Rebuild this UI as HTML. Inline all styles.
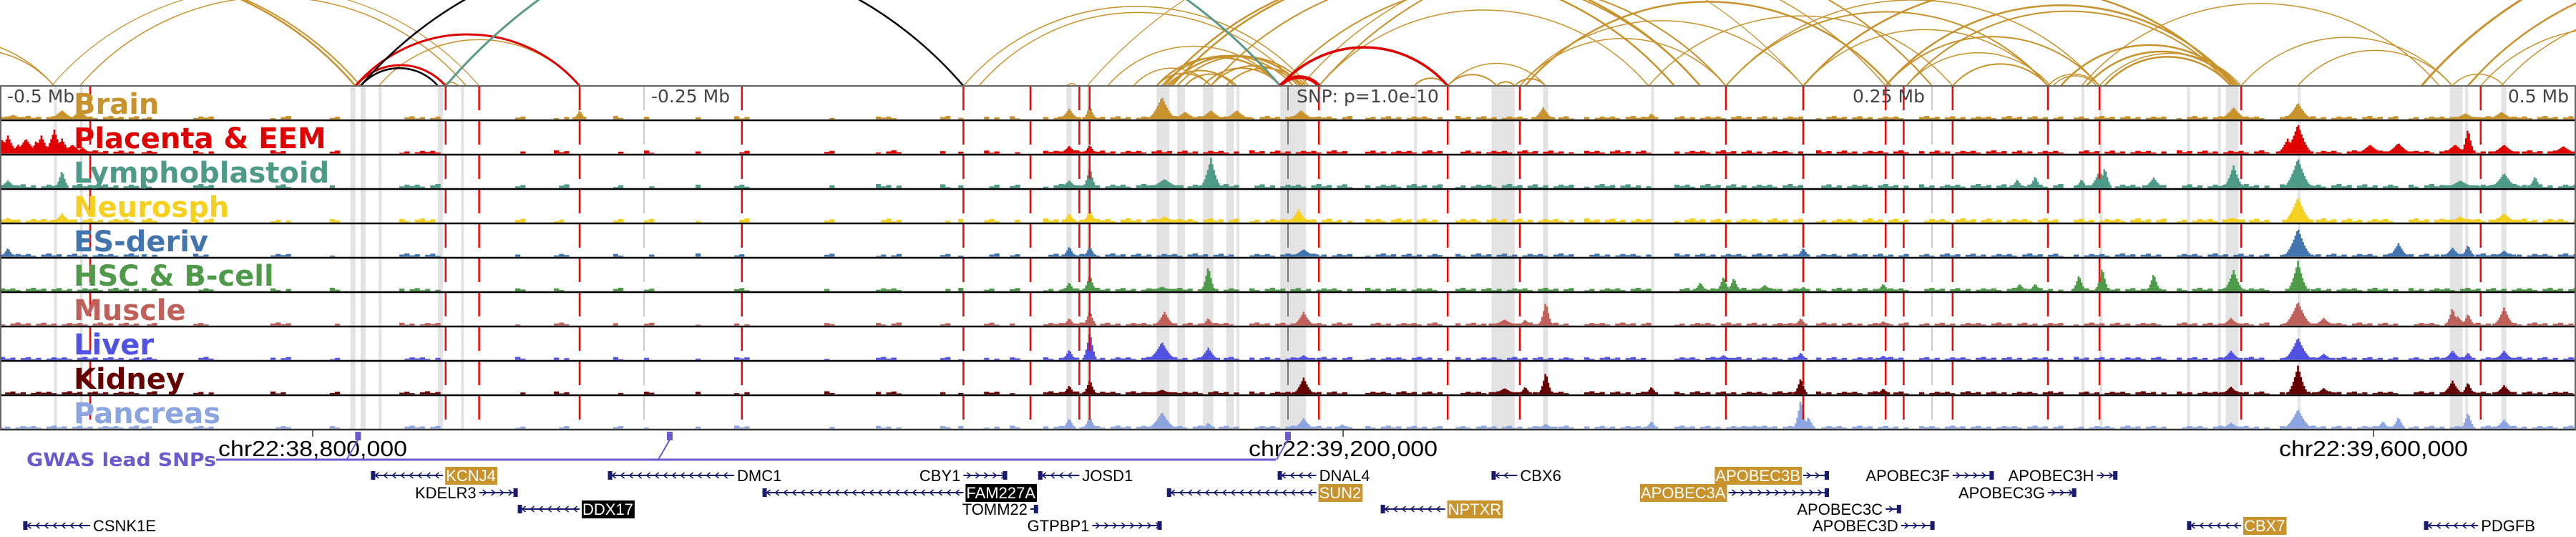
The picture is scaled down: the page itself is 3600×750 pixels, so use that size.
<!DOCTYPE html>
<html><head><meta charset="utf-8">
<style>
html,body{margin:0;padding:0;background:#fff;}
svg{display:block;}
</style></head>
<body>
<svg id="chart" xmlns="http://www.w3.org/2000/svg" width="3600" height="750" viewBox="0 0 3600 750">
  <defs><clipPath id="arcClip"><rect x="0" y="0" width="3600" height="121"/></clipPath></defs>
  <g id="arcs" clip-path="url(#arcClip)"></g>
  <g id="bands"></g>
  <g id="tracks"></g>
  <g id="vlines"></g>
  <g id="borders"></g>
  <g id="labels"></g>
  <g id="axis"></g>
  <g id="gwas"></g>
  <g id="genes"></g>
</svg>
<script>
// ---- data (positions in kb relative to lead SNP) ----
const trackNames = ["Brain","Placenta & EEM","Lymphoblastoid","Neurosph","ES-deriv","HSC & B-cell","Muscle","Liver","Kidney","Pancreas"];
const trackColors = ["#c8922c","#e00000","#4e9a88","#f5d01e","#4274ae","#4f9a4a","#c0605a","#5252e2","#650000","#8ca4e0"];
const backgroundLevels = [0.09,0.09,0.11,0.11,0.09,0.09,0.08,0.08,0.08,0.08];
const backgroundTexture = [0.6,1.0,0.4,0,0.8,1.2,0.5,0.9,0,0.7,1.1,0.3,0.8,0,0.5,1.0];
const backgroundSegments = [[-500,-447],[-445,-440],[-425,-418],[-395,-388],[-372,-368],[-345,-330],[-300,-296],[-285,-280],[-262,-258],[-250,-246],[-230,-228],[-215,-210],[-180,-176],[-160,-150],[-135,-132],[-128,-126],[-118,-112],[-108,-104],[-95,-20],[-15,25],[30,60],[65,110],[115,140],[150,200],[205,240],[245,300],[305,340],[345,380],[385,430],[435,500]];
// peaks: [kb, height fraction, half-width kb]
const brainPeaks = [[-495,0.15,3],[-476,0.3,3],[-469,0.35,2],[-275,0.3,1],[-85,0.35,2],[-77,0.45,1],[-49,0.75,3],[-40,0.25,3],[-30,0.3,3],[-20,0.3,3],[5,0.3,3],[99,0.4,2],[141,0.2,1],[367,0.4,3],[392,0.55,3],[457,0.2,3],[471,0.25,3]];
const placentaPeaks = [[-499,0.5,1],[-497,0.6,2],[-493,0.3,2],[-490,0.5,3],[-486,0.45,1],[-484,0.6,2],[-479,0.8,2],[-476,0.5,2],[-472,0.3,3],[-468,0.2,2],[-85,0.25,2],[-77,0.3,1],[392,1.0,3],[388,0.5,2],[420,0.3,3],[431,0.35,3],[453,0.3,3],[458,0.85,1],[472,0.3,3],[495,0.25,3]];
const lymphPeaks = [[-497,0.25,2],[-476,0.6,1],[-85,0.25,2],[-77,0.7,1],[-48,0.3,4],[-30,1.0,2],[283,0.3,1],[290,0.4,1],[308,0.3,1],[315,0.6,2],[317,0.7,1],[336,0.35,2],[367,0.75,2],[392,1.0,3],[455,0.25,4],[472,0.5,3],[484,0.4,1]];
const neuroPeaks = [[-497,0.15,2],[-476,0.3,2],[-85,0.3,1],[-77,0.45,1],[-48,0.2,3],[4,0.45,2],[367,0.15,2],[392,0.85,3],[455,0.2,3],[472,0.3,3]];
const esPeaks = [[-497,0.3,1],[-85,0.35,1],[-77,0.35,1],[6,0.25,3],[200,0.3,1],[392,0.95,3],[431,0.45,2],[452,0.3,2],[458,0.4,1],[472,0.2,2]];
const hscPeaks = [[-85,0.3,1],[-77,0.55,1],[-49,0.15,3],[-31,0.85,1],[160,0.3,1],[169,0.5,1],[173,0.45,1],[185,0.2,2],[200,0.15,1],[231,0.25,1],[284,0.25,1],[290,0.25,1],[307,0.55,1],[316,0.8,1],[336,0.6,1],[367,0.7,2],[392,1.0,2]];
const musclePeaks = [[-85,0.25,1],[-77,0.5,1],[-48,0.45,2],[-31,0.25,1],[6,0.45,2],[84,0.2,3],[92,0.2,1],[100,0.8,1],[199,0.25,1],[231,0.15,1],[366,0.25,2],[392,0.8,3],[402,0.25,2],[452,0.6,1],[454,0.3,2],[458,0.4,1],[472,0.6,2]];
const liverPeaks = [[-85,0.35,1],[-77,0.95,1],[-49,0.6,3],[-31,0.4,2],[6,0.15,2],[169,0.15,2],[199,0.25,1],[231,0.15,1],[366,0.3,2],[392,0.75,3],[402,0.2,2],[452,0.3,2],[458,0.25,1],[472,0.3,2]];
const kidneyPeaks = [[-85,0.3,1],[-77,0.5,1],[-49,0.15,3],[6,0.55,2],[84,0.2,3],[92,0.25,1],[100,0.75,1],[141,0.25,1],[199,0.55,1],[231,0.2,1],[366,0.25,2],[392,0.95,2],[402,0.2,2],[452,0.45,2],[458,0.4,1],[472,0.3,2]];
const pancreasPeaks = [[-85,0.35,1],[-77,0.4,1],[-49,0.55,3],[-31,0.2,1],[6,0.35,2],[21,0.15,1],[100,0.15,2],[141,0.25,1],[181,0.1,2],[199,1.0,1],[202,0.4,1],[366,0.2,2],[392,0.65,3],[425,0.25,1],[431,0.4,1],[458,0.55,1],[472,0.3,2]];
const trackPeaks = [brainPeaks,placentaPeaks,lymphPeaks,neuroPeaks,esPeaks,hscPeaks,musclePeaks,liverPeaks,kidneyPeaks,pancreasPeaks];
const markerLines = [-465,-327,-314,-275,-212,-126,-100,-81,-77,12,62,90,170,200,232,239,258,295,315,370,463];
const greyBands = [[-479,-478],[-469,-468],[-364,-362],[-360,-358],[-353,-352],[-330,-328],[-321,-320],[-86,-84],[-78,-77],[-51,-46],[-43,-40],[-33,-29],[-24,-21],[-20,-19],[-3,3],[3,7],[49,50],[79,88],[99,101],[141,142],[308,309],[315,316],[349,350],[361,362],[364,369],[392,393],[451,456],[457,458],[471,473]];
const snpPosition = 0;
// arcs: [startKb, endKb, colorKey, strokeWidth]
const arcs = [
 [-560,-479,"g",1.5],[-540,-479,"g",1.5],[-469,-319,"g",1.5],[-560,-362,"g",2.5],[-555,-360,"g",2],
 [-353,-275,"g",1.5],[-328,-322,"g",1.5],[-480,-314,"g",1.2],
 [-126,8,"g",1.5],[-120,4,"g",1.5],[-86,-82,"g",1.5],[-78,200,"g",1.2],
 [-51,-3,"g",2.5],[-49,2,"g",2],[-46,5,"g",2.5],[-43,7,"g",2],[-33,-3,"g",2],[-30,4,"g",2],[-24,6,"g",2],
 [-51,-30,"g",2],[-47,-21,"g",2],[-40,-20,"g",2],[-60,-30,"g",1.5],[-70,-3,"g",1.5],
 [-48,150,"g",2.5],[-45,160,"g",2.5],[-30,160,"g",2],[-3,170,"g",2],[12,250,"g",2],[5,232,"g",1.5],
 [49,62,"g",2],[62,81,"g",2],[81,88,"g",2],[88,100,"g",2],[62,100,"g",1.5],[12,140,"g",1.5],
 [90,170,"g",1.5],[90,200,"g",1.5],[92,234,"g",2.5],[140,258,"g",1.5],
 [170,295,"g",2],[200,295,"g",1.5],[232,315,"g",2],[170,315,"g",1.5],[240,296,"g",1.5],[258,295,"g",2],
 [295,315,"g",1.5],[297,314,"g",1.5],[315,370,"g",1.5],[310,368,"g",2.5],[317,366,"g",2.5],[300,369,"g",2.5],
 [200,367,"g",2.5],[232,368,"g",2.5],[240,366,"g",2],[370,452,"g",1.5],[308,447,"g",1.5],[392,452,"g",1.5],
 [452,472,"g",1.5],[463,560,"g",1.5],[471,600,"g",1.5],[440,700,"g",3],[458,650,"g",2.5],
 [-362,-327,"r",3],[-362,-275,"r",3],[-360,-330,"k",2.5],[-360,-126,"k",2.5],[-327,-3,"t",3],
 [-3,62,"r",3.5],[-3,12,"r",5]
];
const arcColors = {g:"#c8922c", r:"#e00000", k:"#000000", t:"#5a9a88"};
// axis labels
const axisLabels = [[-500,"-0.5 Mb","start"],[-250,"-0.25 Mb","start"],[250,"0.25 Mb","end"],[500,"0.5 Mb","end"]];
const coordTicks = [[-378.6,"chr22:38,800,000"],[21.4,"chr22:39,200,000"],[421.4,"chr22:39,600,000"]];
const gwasSnps = [-361,-240,0];
// genes: [name, startKb, endKb, strand, row, labelSide, style]
const genes = [
 ["KCNJ4",-356,-328,"-",0,"right","gold"],["DMC1",-264,-215,"-",0,"right",""],["KDELR3",-314,-299,"+",1,"left",""],
 ["DDX17",-299,-275,"-",2,"right","black"],["CSNK1E",-491,-465,"-",3,"right",""],["FAM227A",-204,-126,"-",1,"right","black"],
 ["CBY1",-126,-109,"+",0,"left",""],["JOSD1",-97,-81,"-",0,"right",""],["DNAL4",-4,11,"-",0,"right",""],
 ["CBX6",79,89,"-",0,"right",""],["SUN2",-47,11,"-",1,"right","gold"],["TOMM22",-100,-97,"+",2,"left",""],
 ["NPTXR",36,61,"-",2,"right","gold"],["GTPBP1",-76,-49,"+",3,"left",""],["APOBEC3B",200,210,"+",0,"left","gold"],
 ["APOBEC3F",258,274,"+",0,"left",""],["APOBEC3H",314,322,"+",0,"left",""],["APOBEC3A",171,210,"+",1,"left","gold"],
 ["APOBEC3G",295,306,"+",1,"left",""],["APOBEC3C",232,238,"+",2,"left",""],["APOBEC3D",238,251,"+",3,"left",""],
 ["CBX7",349,370,"-",3,"right","gold"],["PDGFB",441,462,"-",3,"right",""]
];

// ---- scales ----
const NS="http://www.w3.org/2000/svg";
const X = kb => (kb + 500) * 3.6;
const TRACK_TOP = 120, TRACK_H = 48, BASE_Y = 120;
function mk(tag, attrs, parent){const e=document.createElementNS(NS,tag);for(const k in attrs)e.setAttribute(k,attrs[k]);parent.appendChild(e);return e;}
const gArcs=document.getElementById('arcs'), gBands=document.getElementById('bands'), gTracks=document.getElementById('tracks'),
 gV=document.getElementById('vlines'), gB=document.getElementById('borders'), gL=document.getElementById('labels'),
 gAx=document.getElementById('axis'), gG=document.getElementById('gwas'), gGenes=document.getElementById('genes');

// arcs
arcs.forEach(a=>{
  const x1=X(a[0]), x2=X(a[1]); const c=x2-x1; const h=0.23*c; const r=(c*c/4+h*h)/(2*h);
  const p=mk('path',{d:`M${x1},${BASE_Y} A${r},${r} 0 0 1 ${x2},${BASE_Y}`,fill:'none',stroke:arcColors[a[2]],'stroke-width':a[3]},gArcs);
  
  
});

// grey bands
greyBands.forEach(b=>{
  const x1=X(b[0]), w=Math.max(4,X(b[1])-x1);
  const r=mk('rect',{x:x1,y:TRACK_TOP,width:w,height:TRACK_H*10,fill:'#e3e3e3'},gBands);
  
  
});

// tracks
trackNames.forEach((name,i)=>{
  const top=TRACK_TOP+i*TRACK_H, bottom=top+TRACK_H-1.5, H=42, col=trackColors[i];
  const g=mk('g',{},gTracks);
  
  
  let k=i*3;
  backgroundSegments.forEach(s=>{
    for(let p=s[0]; p<s[1]; p+=2){
      const v=backgroundTexture[k++ % backgroundTexture.length];
      if(v===0) continue;
      const hh=backgroundLevels[i]*H*v;
      const r=mk('rect',{x:X(p),y:bottom-hh,width:7.2,height:hh,fill:col},g);
      
      
    }
  });
  trackPeaks[i].forEach(p=>{
    const w=p[2]*1.6+1;
    for(let d=-w; d<=w; d+=0.6){
      const f=Math.pow(1-Math.abs(d)/(w+0.6),1.8);
      const hh=Math.max(backgroundLevels[i]*0.8, p[1]*f)*H;
      const r=mk('rect',{x:X(p[0]+d)-1,y:bottom-hh,width:2.6,height:hh,fill:col},g);
      
      
    }
  });
  const t=mk('text',{x:103,y:top+39,fill:col,'font-family':'"DejaVu Sans",sans-serif','font-weight':'bold','font-size':40},gL);
  t.textContent=name;
  
  
});

// marker lines
markerLines.forEach(m=>{
  const l=mk('line',{x1:X(m),x2:X(m),y1:TRACK_TOP,y2:TRACK_TOP+TRACK_H*10,stroke:'#f00','stroke-width':2.5,'stroke-dasharray':'34 14'},gV);
  
  
});
[X(-250),X(250)].forEach(x=>{
  const l=mk('line',{x1:x,x2:x,y1:TRACK_TOP,y2:TRACK_TOP+TRACK_H*10,stroke:'#bbb','stroke-width':1.5,'stroke-dasharray':'34 14'},gV);
  
  
});
{
  const l=mk('line',{x1:X(snpPosition),x2:X(snpPosition),y1:TRACK_TOP,y2:TRACK_TOP+TRACK_H*10,stroke:'#777','stroke-width':2,'stroke-dasharray':'34 14'},gV);
  
  
}

// borders
for(let i=0;i<=10;i++){
  const y=TRACK_TOP+i*TRACK_H;
  const l=mk('line',{x1:0,x2:3600,y1:y,y2:y,stroke:i===0?'#666':(i===10?'#333':'#000'),'stroke-width':i===0?2:2.5},gB);
  
  
}
{
  const l1=mk('line',{x1:1,x2:1,y1:TRACK_TOP,y2:TRACK_TOP+480,stroke:'#666','stroke-width':2},gB);
  
  
  const l2=mk('line',{x1:3599,x2:3599,y1:TRACK_TOP,y2:TRACK_TOP+480,stroke:'#666','stroke-width':2},gB);
  
  
}

// axis labels inside brain track
axisLabels.forEach(a=>{
  let x=X(a[0]); if(a[2]==='start') x+=10; else x-=10;
  const t=mk('text',{x:x,y:143,fill:'#444','font-family':'"DejaVu Sans",sans-serif','font-size':25,'text-anchor':a[2]},gAx);
  t.textContent=a[1];
  
  
});
{
  const t=mk('text',{x:X(snpPosition)+12,y:143,fill:'#444','font-family':'"DejaVu Sans",sans-serif','font-size':25},gAx);
  t.textContent='SNP: p=1.0e-10';
  
  
}
coordTicks.forEach(c=>{
  const x=X(c[0]);
  const l=mk('line',{x1:x,x2:x,y1:600,y2:610,stroke:'#333','stroke-width':1.5},gAx);
  
  
  const t=mk('text',{x:x-132,y:637,fill:'#000','font-family':'"Liberation Sans Narrow","Liberation Sans",sans-serif','font-size':31,textLength:264,lengthAdjust:'spacingAndGlyphs'},gAx);
  t.textContent=c[1];
  
  
});

// GWAS track
{
  const t=mk('text',{x:37,y:651,fill:'#6a5acd','font-family':'"DejaVu Sans",sans-serif','font-weight':'bold','font-size':26,textLength:265,lengthAdjust:'spacingAndGlyphs'},gG);
  t.textContent='GWAS lead SNPs';
  
  
  const lastX=X(gwasSnps[gwasSnps.length-1])-17;
  const l=mk('line',{x1:302,x2:lastX,y1:642,y2:642,stroke:'#6a5acd','stroke-width':3},gG);
  
  
  gwasSnps.forEach(s=>{
    const x=X(s);
    const m=mk('rect',{x:x-4,y:603,width:8,height:12,fill:'#6a5acd'},gG);
    
    
    const c=mk('line',{x1:x,y1:614,x2:x-16,y2:642,stroke:'#6a5acd','stroke-width':2},gG);
    
    
  });
}

// genes
const rowY=[664,688,711,734];
genes.forEach(gn=>{
  const [name,s,e,strand,row,side,style]=gn;
  const y=rowY[row], x1=X(s), x2=X(e);
  const g=mk('g',{},gGenes);
  
  
  const l=mk('line',{x1:x1,x2:x2,y1:y,y2:y,stroke:'#1a1a6e','stroke-width':2},g);
  
  
  for(let x=x1+8;x<x2-4;x+=12){
    const d=strand==='+'?`M${x-3},${y-4} L${x+2},${y} L${x-3},${y+4}`:`M${x+3},${y-4} L${x-2},${y} L${x+3},${y+4}`;
    const p=mk('path',{d:d,fill:'none',stroke:'#1a1a6e','stroke-width':1.5},g);
    
    
  }
  const bx=strand==='+'?x2-6:x1;
  const b=mk('rect',{x:bx,y:y-6,width:6,height:12,fill:'#1a1a6e'},g);
  
  
  const fs=22;
  const t=mk('text',{x:0,y:y+8,'font-family':'"Liberation Sans Narrow","Liberation Sans",sans-serif','font-size':fs,fill:style?'#fff':'#000'},g);
  t.textContent=name;
  
  
  const w=t.getComputedTextLength();
  const tx=side==='right'?x2+4:x1-4-w;
  t.setAttribute('x',tx);
  if(style){
    const r=document.createElementNS(NS,'rect');
    r.setAttribute('x',tx-1);r.setAttribute('y',y-12);r.setAttribute('width',w+3);r.setAttribute('height',25);
    r.setAttribute('fill',style==='gold'?'#c8922c':'#000');
    
    
    g.insertBefore(r,t);
  }
});
</script>
</body></html>
